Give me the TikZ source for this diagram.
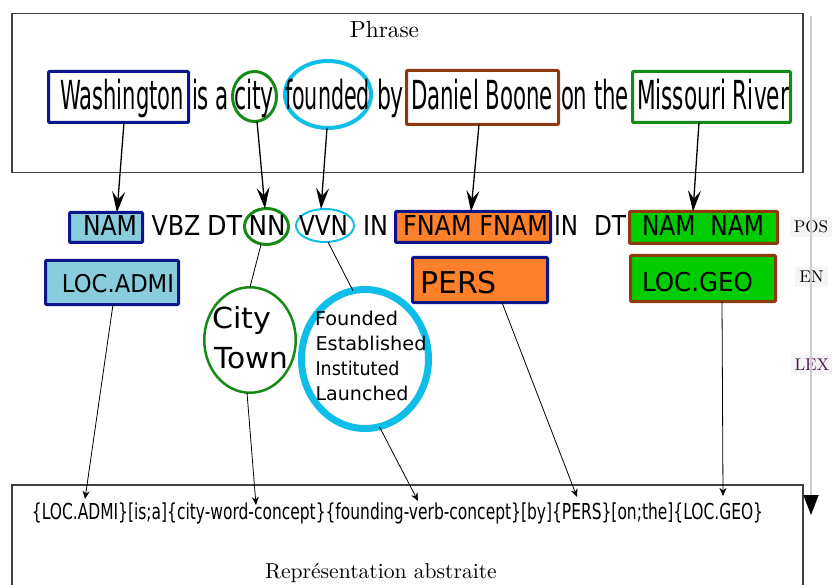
\documentclass[tikz,border=0pt]{standalone}
\usepackage{fontspec}
\setsansfont{DejaVu Sans}
\newfontfamily\cmten{lmroman10-regular.otf}
\usepackage{graphicx}
\usetikzlibrary{arrows.meta,shapes.geometric,calc}
\definecolor{navy}{RGB}{12,22,140}
\definecolor{lblue}{RGB}{136,204,222}
\definecolor{orng}{RGB}{255,128,42}
\definecolor{grn}{RGB}{0,204,0}
\definecolor{dgreen}{RGB}{22,138,22}
\definecolor{brwn}{RGB}{140,58,14}
\definecolor{cyn}{RGB}{14,190,232}
\definecolor{lexc}{RGB}{80,20,80}
\newcommand{\sq}[3]{\resizebox{#1pt}{\height}{\fontsize{#2pt}{#2pt}\selectfont\sffamily #3}}
\begin{document}
\begin{tikzpicture}[x=1pt,y=-1pt,
  sbox/.style={shape=rectangle,inner sep=0pt,outer sep=0pt,line width=3pt,rounded corners=1pt},
  sell/.style={shape=ellipse,inner sep=0pt,outer sep=0pt,line width=3pt},
  txt/.style={anchor=base,inner sep=0pt,outer sep=0pt},
  frame/.style={draw=black!75,line width=1.2pt},
  toparr/.style={line width=1.3pt,-{Stealth[length=21pt,width=13pt,inset=8pt]}},
  linkln/.style={line width=0.8pt},
  lowarr/.style={line width=0.8pt,-{Stealth[length=8pt,width=7pt,inset=2.5pt]}},
  lbl/.style={anchor=base,fill=black!4,inner sep=4pt,font=\cmten\fontsize{17pt}{17pt}\selectfont}]
\useasboundingbox (0,0) rectangle (832,585);
% frames
\draw[frame] (12,13.5) rectangle (803,172.5);
\draw[frame] (12,485) rectangle (803,600);
\node[txt,font=\cmten\fontsize{23.3pt}{23.3pt}\selectfont] (phrase) at (384.5,37.5) {Phrase};
\node[txt,font=\cmten\fontsize{21.6pt}{21.6pt}\selectfont] (repr) at (381,578) {Représentation abstraite};
% sentence shapes
\node[sbox,draw=navy,minimum width=140pt,minimum height=51pt] (wash) at (118.5,97) {};
\node[sell,draw=dgreen,minimum width=44pt,minimum height=50pt] (cityw) at (254.5,96.5) {};
\node[sell,draw=cyn,line width=4pt,minimum width=86pt,minimum height=67pt] (founded) at (328,94.5) {};
\node[sbox,draw=brwn,minimum width=152pt,minimum height=54pt] (daniel) at (482.5,97.5) {};
\node[sbox,draw=dgreen,minimum width=158pt,minimum height=51pt] (missouri) at (711.5,97) {};
% sentence words
\node[txt] (tw1) at (122,110) {\sq{124}{40}{Washington}};
\node[txt] (tw2) at (210.5,110) {\sq{37}{40}{is a}};
\node[txt] (tw3) at (254,110) {\sq{40}{40}{city}};
\node[txt] (tw4) at (327.5,110) {\sq{85}{40}{founded}};
\node[txt] (tw5) at (390.5,110) {\sq{27}{40}{by}};
\node[txt] (tw6) at (482,110) {\sq{142}{40}{Daniel Boone}};
\node[txt] (tw7) at (595,110) {\sq{68}{40}{on the}};
\node[txt] (tw8) at (713,110) {\sq{152}{40}{Missouri River}};
% POS shapes
\node[sbox,draw=navy,fill=lblue,minimum width=73pt,minimum height=30pt] (pnam) at (106,227.5) {};
\node[sell,draw=dgreen,minimum width=44pt,minimum height=36pt] (pnn) at (266.5,226.5) {};
\node[sell,draw=cyn,line width=2pt,minimum width=58pt,minimum height=33pt] (pvvn) at (325,225.5) {};
\node[sbox,draw=navy,fill=orng,minimum width=155pt,minimum height=31pt] (pfnam) at (473,227) {};
\node[sbox,draw=brwn,fill=grn,minimum width=148pt,minimum height=32pt] (pnamnam) at (703.5,227.5) {};
% POS text
\node[txt] (q1) at (110,236) {\sq{54}{27.4}{NAM}};
\node[txt] (q2) at (176,236) {\sq{49}{27.4}{VBZ}};
\node[txt] (q3) at (224.5,236) {\sq{35}{27.4}{DT}};
\node[txt] (q4) at (267,236) {\sq{37}{27.4}{NN}};
\node[txt] (q5) at (323.5,236) {\sq{49}{27.4}{VVN}};
\node[txt] (q6) at (375.5,236) {\sq{25}{27.4}{IN}};
\node[txt] (q7) at (475.5,236) {\sq{145}{27.4}{FNAM FNAM}};
\node[txt] (q8) at (566,236) {\sq{24}{27.4}{IN}};
\node[txt] (q9) at (610,236) {\sq{32}{27.4}{DT}};
\node[txt] (q10) at (703,236) {\sq{122}{27.4}{NAM\ \ NAM}};
% EN shapes
\node[sbox,draw=navy,fill=lblue,minimum width=133pt,minimum height=44pt] (locadmi) at (112,282.5) {};
\node[sbox,draw=navy,fill=orng,minimum width=135pt,minimum height=45pt] (pers) at (480,280) {};
\node[sbox,draw=brwn,fill=grn,minimum width=145pt,minimum height=46pt] (locgeo) at (703,278.5) {};
\node[txt] (r1) at (118,292) {\sq{112}{24.5}{LOC.ADMI}};
\node[txt] (r2) at (458.5,293) {\sq{77}{30}{PERS}};
\node[txt] (r3) at (697.5,291) {\sq{111}{26}{LOC.GEO}};
% lexical ellipses
\node[sell,draw=dgreen,line width=2.5pt,minimum width=91.5pt,minimum height=105.5pt] (cityell) at (250,340) {};
\node[txt] (c1) at (242,328) {\sq{59}{29}{City}};
\node[txt] (c2) at (251,368) {\sq{74}{29}{Town}};
\node[sell,draw=cyn,line width=7pt,minimum width=127pt,minimum height=139pt] (foundell) at (365,359) {};
\node[txt] (f1) at (356.5,325) {\sq{83}{19}{Founded}};
\node[txt] (f2) at (371,350) {\sq{111}{19}{Established}};
\node[txt] (f3) at (357.5,375) {\sq{84}{19}{Instituted}};
\node[txt] (f4) at (362,400) {\sq{93}{19}{Launched}};
% abstract representation
\node[txt] (abs) at (397.5,519) {\sq{731}{22}{\{LOC.ADMI\}[is;a]\{city-word-concept\}\{founding-verb-concept\}[by]\{PERS\}[on;the]\{LOC.GEO\}}};
\coordinate (e1) at (85,499);
\coordinate (e2) at (256,505);
\coordinate (e3) at (418,501);
\coordinate (e4) at (577,497);
\coordinate (e5) at (723,496);
% upper arrows
\draw[toparr] ([xshift=5.5pt]wash.south) -- ([xshift=11pt]pnam.north);
\draw[toparr] ([xshift=2.5pt]cityw.south) -- ([xshift=-1.5pt]pnn.north);
\draw[toparr] ([xshift=-1pt]founded.south) -- ([xshift=-4pt]pvvn.north);
\draw[toparr] ([xshift=-3.5pt]daniel.south) -- ([xshift=-2pt]pfnam.north);
\draw[toparr] ([xshift=-12.5pt]missouri.south) -- ([xshift=-10.5pt]pnamnam.north);
% links
\draw[linkln] ([xshift=-5.5pt]pnn.south) -- (cityell.north);
\draw[linkln] ([xshift=3pt]pvvn.south) -- (foundell.100);
% lower arrows
\draw[lowarr] ([xshift=1pt]locadmi.south) -- (e1);
\draw[lowarr] ([xshift=-3pt]cityell.south) -- (e2);
\draw[lowarr] (foundell.-78) -- (e3);
\draw[lowarr] ([xshift=22pt]pers.south) -- (e4);
\draw[lowarr] ([xshift=19pt]locgeo.south) -- (e5);
% level labels
\node[lbl] (pos) at (811,233) {POS};
\node[lbl] (en) at (811.5,283) {EN};
\node[lbl,text=lexc] (lex) at (812,370) {LEX};
\coordinate (vtop) at (811,16);
\coordinate (vbot) at (811,515);
\draw[line width=1.5pt,draw=gray!40,-{Triangle[length=20pt,width=15pt,black]}] (vtop) -- (vbot);
\end{tikzpicture}
\end{document}
